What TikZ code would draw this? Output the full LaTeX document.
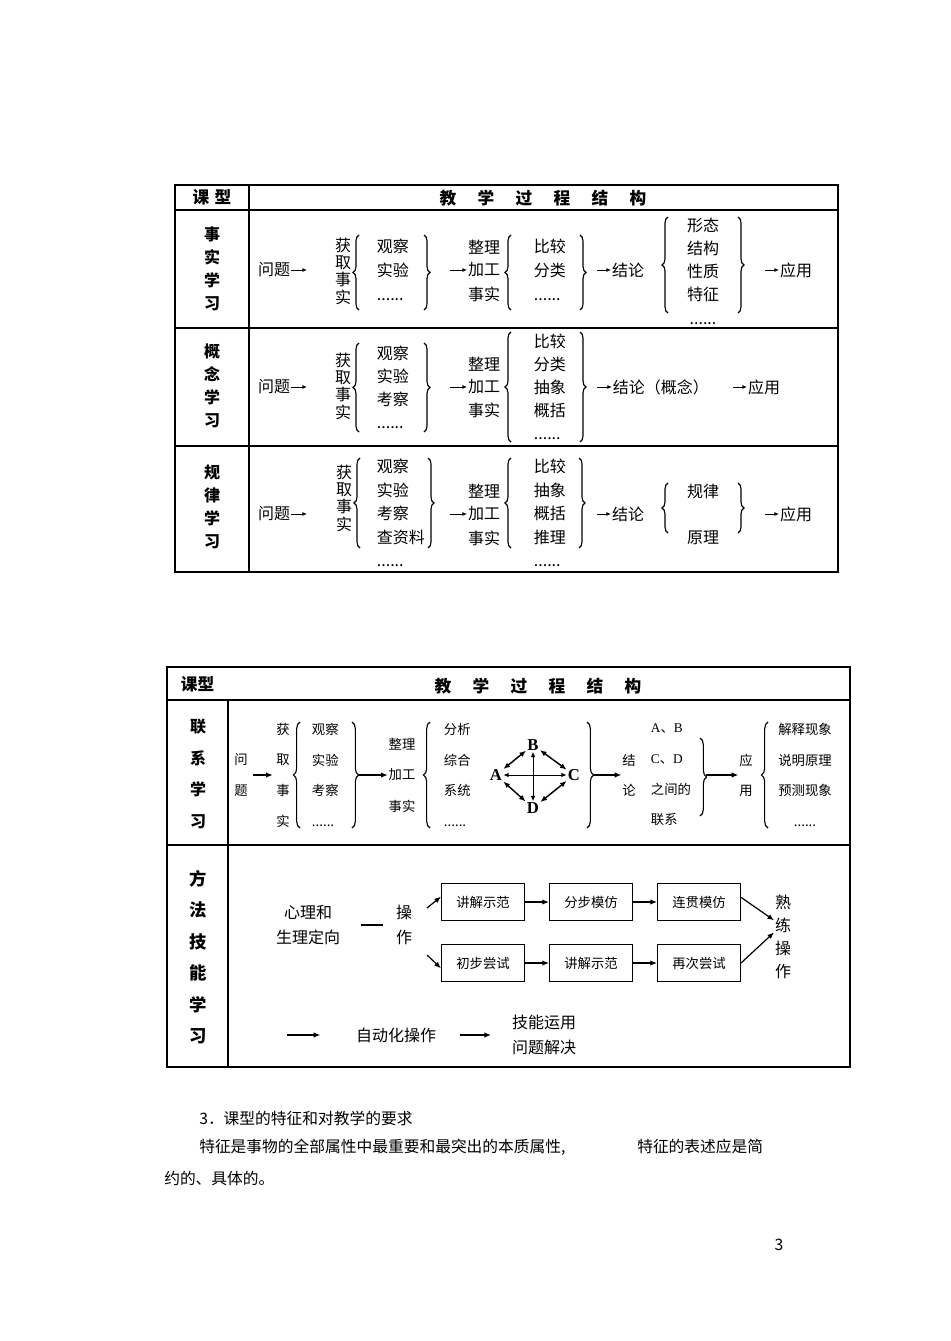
\documentclass[tikz,border=0pt]{standalone}
\usepackage{fontspec}
\setmainfont{Noto Sans CJK SC}
\newfontfamily\lserif{Liberation Serif}
\usetikzlibrary{decorations.pathreplacing,arrows.meta}
\tikzset{
 tx/.style={inner sep=0.5pt, align=center, font=\fontsize{12}{#1}\selectfont},
 tx/.default=14,
 sx/.style={inner sep=0.5pt, align=center, font=\fontsize{10}{#1}\selectfont},
 sx/.default=12,
 mx/.style={inner sep=0.5pt, align=center, font=\fontsize{12}{#1}\selectfont},
 mx/.default=14,
 lab/.style={inner sep=0.5pt, align=center, font=\bfseries\fontsize{12}{#1}\selectfont},
 hd/.style={inner sep=0.5pt, font=\bfseries\fontsize{12.5}{14}\selectfont},
 brc/.style={decorate, decoration={brace, amplitude=#1}, line width=0.85pt},
 brc/.default=4.5pt,
 sarr/.style={-{Latex[length=3.5pt,width=3pt]}, line width=0.7pt},
 arr/.style={-{Latex[length=5pt,width=4pt]}, line width=0.9pt},
 dar/.style={{Latex[length=5pt,width=4pt]}-{Latex[length=5pt,width=4pt]}, line width=1.1pt},
 xar/.style={{Latex[length=4pt,width=3.5pt]}-{Latex[length=4pt,width=3.5pt]}, line width=0.7pt},
 bx/.style={draw, line width=1pt, minimum width=62pt, minimum height=28pt, inner sep=1pt, font=\fontsize{10}{11}\selectfont},
 letter/.style={inner sep=0.8pt, font=\lserif\bfseries\fontsize{12.5}{13}\selectfont},
 ptext/.style={inner sep=0pt, anchor=west, font=\fontsize{11.8}{13}\selectfont},
 tl/.style={line width=1pt},
 tli/.style={line width=0.8pt},
}
\begin{document}
\begin{tikzpicture}[x=0.75pt,y=-0.75pt]
\useasboundingbox (0,0) rectangle (950,1341);
\fill[white] (0,0) rectangle (950,1341);

% ================= table 1 =================
\draw[tl] (175,185) rectangle (838,572);
\draw[tli] (175,210) -- (838,210);
\draw[tli] (249,185) -- (249,572);
\draw[tli] (175,328) -- (838,328);
\draw[tli] (175,446) -- (838,446);

\node[hd] (kx1) at (212,197) {课\hspace{4pt}型};
\node[hd] (jx1) at (543,198) {教\hspace{16pt}学\hspace{16pt}过\hspace{16pt}程\hspace{16pt}结\hspace{16pt}构};

% row 1
\node[lab=17.25] (r1) at (212,269) {事\\实\\学\\习};
\node[tx] (q1) at (274,270) {问题};
\coordinate (q1e) at (307,270);
\draw[sarr] (q1) -- (q1e);
\node[tx=13] (g1) at (343,271) {获\\取\\事\\实};
\draw[brc] (359,310) -- (359,235);
\node[tx=18, align=left, anchor=west] (o1) at (376,270) {观察\\实验\\......};
\draw[brc] (424,235) -- (424,310);
\coordinate (a11) at (450,270);
\node[tx] (zl1) at (484,247) {整理};
\node[tx] (jg1) at (484,270) {加工};
\node[tx] (ss1) at (484,294) {事实};
\draw[sarr] (a11) -- (jg1);
\draw[brc] (511,310) -- (511,235);
\node[tx=18, align=left, anchor=west] (bj1) at (533,270) {比较\\分类\\......};
\draw[brc] (580,235) -- (580,310);
\coordinate (a12) at (597,270);
\node[tx] (jl1) at (628,270) {结论};
\draw[sarr] (a12) -- (jl1);
\draw[brc] (668,313) -- (668,217);
\node[tx=17.4] (xt1) at (703,271) {形态\\结构\\性质\\特征\\......};
\draw[brc] (738,217) -- (738,313);
\coordinate (a13) at (765,270);
\node[tx] (yy1) at (796,270) {应用};
\draw[sarr] (a13) -- (yy1);

% row 2
\node[lab=17.25] (r2) at (212,386) {概\\念\\学\\习};
\node[tx] (q2) at (274,387) {问题};
\coordinate (q2e) at (307,387);
\draw[sarr] (q2) -- (q2e);
\node[tx=13] (g2) at (343,386) {获\\取\\事\\实};
\draw[brc] (359,432) -- (359,343);
\node[tx=17.25, align=left, anchor=west] (o2) at (376,387) {观察\\实验\\考察\\......};
\draw[brc] (424,343) -- (424,432);
\coordinate (a21) at (450,387);
\node[tx] (zl2) at (484,364) {整理};
\node[tx] (jg2) at (484,387) {加工};
\node[tx] (ss2) at (484,410) {事实};
\draw[sarr] (a21) -- (jg2);
\draw[brc] (511,442) -- (511,332);
\node[tx=17.25, align=left, anchor=west] (bj2) at (533,387) {比较\\分类\\抽象\\概括\\......};
\draw[brc] (580,332) -- (580,442);
\coordinate (a22) at (597,387);
\node[tx, anchor=west] (jl2) at (612,387) {结论（概念）};
\draw[sarr] (a22) -- (jl2);
\coordinate (a23) at (733,387);
\node[tx] (yy2) at (764,387) {应用};
\draw[sarr] (a23) -- (yy2);

% row 3
\node[lab=17.25] (r3) at (212,507) {规\\律\\学\\习};
\node[tx] (q3) at (274,514) {问题};
\coordinate (q3e) at (307,514);
\draw[sarr] (q3) -- (q3e);
\node[tx=13] (g3) at (344,498) {获\\取\\事\\实};
\draw[brc] (360,548) -- (360,458);
\node[tx=17.6, align=left, anchor=west] (o3) at (376,513) {观察\\实验\\考察\\查资料\\......};
\draw[brc] (428,458) -- (428,548);
\coordinate (a31) at (450,514);
\node[tx] (zl3) at (484,491) {整理};
\node[tx] (jg3) at (484,514) {加工};
\node[tx] (ss3) at (484,538) {事实};
\draw[sarr] (a31) -- (jg3);
\draw[brc] (511,548) -- (511,458);
\node[tx=17.6, align=left, anchor=west] (bj3) at (533,513) {比较\\抽象\\概括\\推理\\......};
\draw[brc] (579,458) -- (579,548);
\coordinate (a32) at (597,514);
\node[tx] (jl3) at (628,514) {结论};
\draw[sarr] (a32) -- (jl3);
\draw[brc] (668,533) -- (668,483);
\node[tx] (gl3) at (703,491) {规律};
\node[tx] (yl3) at (703,538) {原理};
\draw[brc] (738,483) -- (738,533);
\coordinate (a33) at (765,514);
\node[tx] (yy3) at (796,514) {应用};
\draw[sarr] (a33) -- (yy3);

% ================= table 2 =================
\draw[tl] (167,667) rectangle (850,1067);
\draw[tli] (167,700) -- (850,700);
\draw[tli] (228,700) -- (228,1067);
\draw[tli] (167,845) -- (850,845);

\node[hd, anchor=west] (kx2) at (180,684) {课型};
\node[hd] (jx2) at (538,686) {教\hspace{16pt}学\hspace{16pt}过\hspace{16pt}程\hspace{16pt}结\hspace{16pt}构};

% row 1 (联系学习)
\node[lab=23.6] (r4) at (198,774) {联\\系\\学\\习};
\node[sx=23] (wt) at (241,775) {问\\题};
\node[sx=23] (hq) at (283,775) {获\\取\\事\\实};
\draw[arr, shorten <=3pt, shorten >=2pt] (wt) -- (hq);
\draw[brc=5pt] (300,828) -- (300,722);
\node[sx=23, align=left, anchor=west] (gc) at (311,775) {观察\\实验\\考察\\......};
\draw[brc=5pt] (352,722) -- (352,828);
\coordinate (t21) at (358,775);
\node[sx] (zl4) at (402,744) {整理};
\node[sx] (jg4) at (402,775) {加工};
\node[sx] (ss4) at (402,806) {事实};
\draw[arr] (t21) -- (jg4);
\draw[brc=5pt] (430,828) -- (430,722);
\node[sx=23, align=left, anchor=west] (fx) at (443,775) {分析\\综合\\系统\\......};
\node[letter] (B) at (533,745) {B};
\node[letter] (A) at (496,775) {A};
\node[letter] (C) at (574,775) {C};
\node[letter] (D) at (533,808) {D};
\draw[dar] (A) -- (B);
\draw[dar] (B) -- (C);
\draw[dar] (A) -- (D);
\draw[dar] (D) -- (C);
\draw[xar] (A) -- (C);
\draw[xar] (B) -- (D);
\draw[brc=5pt] (587,722) -- (587,828);
\coordinate (t22) at (593,775);
\node[sx=22.5] (jl4) at (629,775) {结\\论};
\draw[arr] (t22) -- (jl4);
\node[sx=23, align=left, anchor=west] (ab) at (650,775) {{\lserif A}、{\lserif B}\\{\lserif C}、{\lserif D}\\之间的\\联系};
\draw[brc=5pt] (700,738) -- (700,816);
\coordinate (t23) at (706,775);
\node[sx=22.5] (yy4) at (746,775) {应\\用};
\draw[arr] (t23) -- (yy4);
\draw[brc=5pt] (768,828) -- (768,722);
\node[sx=23] (js) at (805,775) {解释现象\\说明原理\\预测现象\\......};

% row 2 (方法技能学习)
\node[inner sep=0.5pt, align=center, font=\bfseries\fontsize{13}{23.6}\selectfont] (r5) at (198,957) {方\\法\\技\\能\\学\\习};
\node[mx=18.75] (xl) at (308,925) {心理和\\生理定向};
\node[tx=18.75] (cz) at (404,925) {操\\作};
\draw[line width=1pt, shorten <=15pt, shorten >=9pt] (xl) -- (cz);
\node[bx] (b1) at (483,902) {讲解示范};
\node[bx] (b2) at (591,902) {分步模仿};
\node[bx] (b3) at (699,902) {连贯模仿};
\node[bx] (b4) at (483,963) {初步尝试};
\node[bx] (b5) at (591,963) {讲解示范};
\node[bx] (b6) at (699,963) {再次尝试};
\draw[arr] (b1) -- (b2);
\draw[arr] (b2) -- (b3);
\draw[arr] (b4) -- (b5);
\draw[arr] (b5) -- (b6);
\coordinate (c1) at (427,908);
\coordinate (c2) at (427,955);
\draw[arr] (c1) -- ([yshift=4pt]b1.west);
\draw[arr] (c2) -- ([yshift=-4pt]b4.west);
\node[tx=17.25] (sl) at (783,937) {熟\\练\\操\\作};
\draw[arr] ([yshift=3.5pt]b3.east) -- ([yshift=12.5pt]sl.west);
\draw[arr] (b6.east) -- ([yshift=3.5pt]sl.west);
\coordinate (s0) at (287,1035);
\node[mx] (zd) at (396,1035) {自动化操作};
\node[mx=18.75] (jn) at (544,1035) {技能运用\\问题解决};
\draw[arr, shorten >=26pt] (s0) -- (zd.west);
\draw[arr, shorten <=17pt, shorten >=15pt] (zd) -- (jn);

% ================= text below =================
\node[ptext] (p1) at (199,1118) {3．课型的特征和对教学的要求};
\node[ptext] (p2) at (199,1147) {特征是事物的全部属性中最重要和最突出的本质属性,};
\node[ptext] (p3) at (637,1147) {特征的表述应是简};
\node[ptext] (p4) at (164,1178) {约的、具体的。};
\node[inner sep=0pt, font=\fontsize{11.8}{13}\selectfont] (pg) at (779,1245) {3};
\end{tikzpicture}
\end{document}
